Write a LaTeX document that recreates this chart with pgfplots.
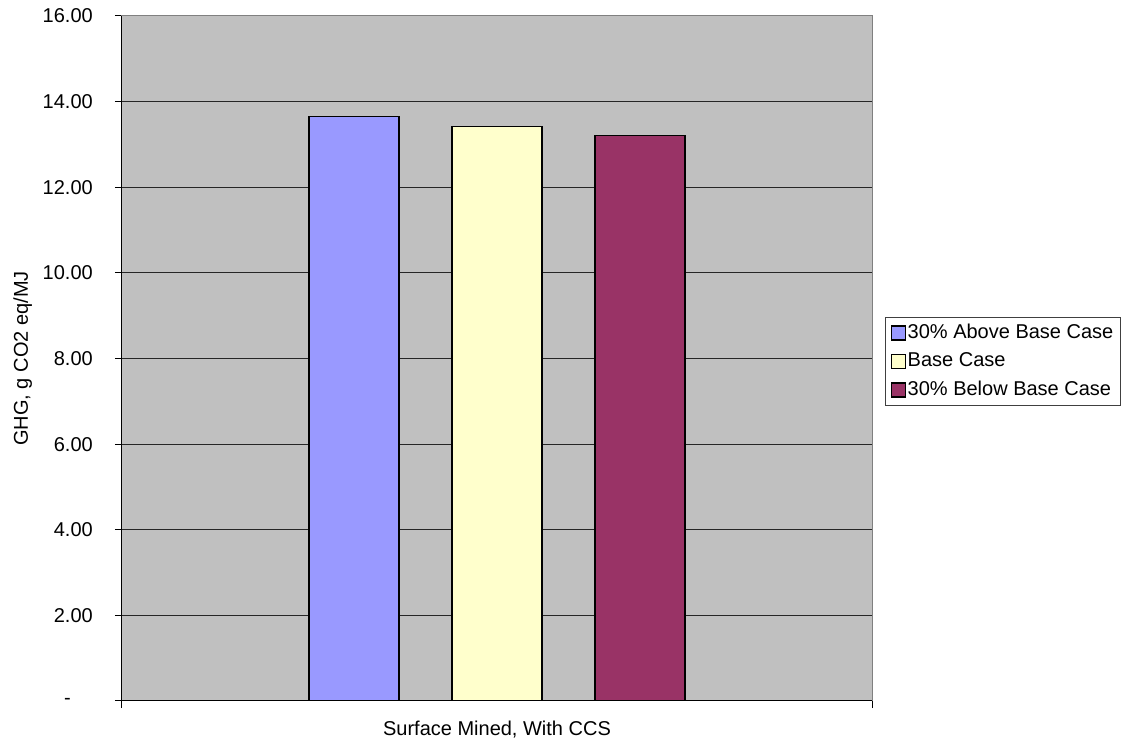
\documentclass[border=0pt]{standalone}
\usepackage{fontspec}
\setmainfont{Liberation Sans}
\usepackage{pgfplots}
\pgfplotsset{compat=1.18}
\definecolor{barA}{HTML}{9999FF}
\definecolor{barB}{HTML}{FFFFCC}
\definecolor{barC}{HTML}{993366}
\definecolor{plotbg}{HTML}{C0C0C0}
\begin{document}
\fontsize{20bp}{24bp}\selectfont
\begin{tikzpicture}
\path[use as bounding box] (-122bp,-43bp) rectangle (1002bp,701bp);
\begin{axis}[
  at={(0,0)}, anchor=south west,
  scale only axis, width=750bp, height=685bp,
  xmin=-0.5, xmax=0.5, ymin=0, ymax=16,
  xtick={-0.5,0.5}, xticklabels={},
  ytick={0,2,...,16},
  yticklabels={-\kern22bp,2.00,4.00,6.00,8.00,10.00,12.00,14.00,16.00},
  /pgf/number format/assume math mode=true,
  xtick pos=bottom, ytick pos=left,
  tick align=outside, major tick length=7bp,
  tick style={black, line width=1bp},
  yticklabel style={inner sep=0pt, xshift=-22bp, font=\fontsize{20bp}{24bp}\selectfont},
  ymajorgrids, grid style={black!85, line width=1bp},
  axis background/.style={fill=plotbg},
  axis line style={draw=gray, line width=1bp},
  ybar, bar width=90bp,
  ylabel={GHG, g CO2 eq/MJ},
  ylabel style={at={(axis description cs:-0.12533,0.5)}, anchor=base, inner sep=0pt, rotate=0, font=\fontsize{20bp}{24bp}\selectfont},
  xlabel={Surface Mined, With CCS},
  xlabel style={at={(axis description cs:0.5,0)}, anchor=base, yshift=-35bp, inner sep=0pt, font=\fontsize{20bp}{24bp}\selectfont},
  legend cell align=left,
  legend image code/.code={\draw[#1, line width=1.2bp] (0bp,-7bp) rectangle (14bp,7bp);},
  legend style={at={(1.01733,0.5606)}, anchor=north west, draw=black!75, fill=white, line width=1bp,
    inner xsep=5bp, inner ysep=4bp, row sep=5.5bp,
    font=\fontsize{20bp}{24bp}\selectfont,
    nodes={inner sep=2bp, text height=15bp, text depth=4bp}},
  after end axis/.code={
    \draw[black, line width=1bp] (rel axis cs:0,1) -- (rel axis cs:0,0) -- (rel axis cs:1,0);
  },
]
\addplot[fill=barA, draw=black, line width=1.2bp, bar shift=-143bp] coordinates {(0,13.65)};
\addplot[fill=barB, draw=black, line width=1.2bp, bar shift=0bp] coordinates {(0,13.41)};
\addplot[fill=barC, draw=black, line width=1.2bp, bar shift=143bp] coordinates {(0,13.21)};
\legend{30\% Above Base Case, Base Case, 30\% Below Base Case}
\end{axis}
\end{tikzpicture}
\end{document}
